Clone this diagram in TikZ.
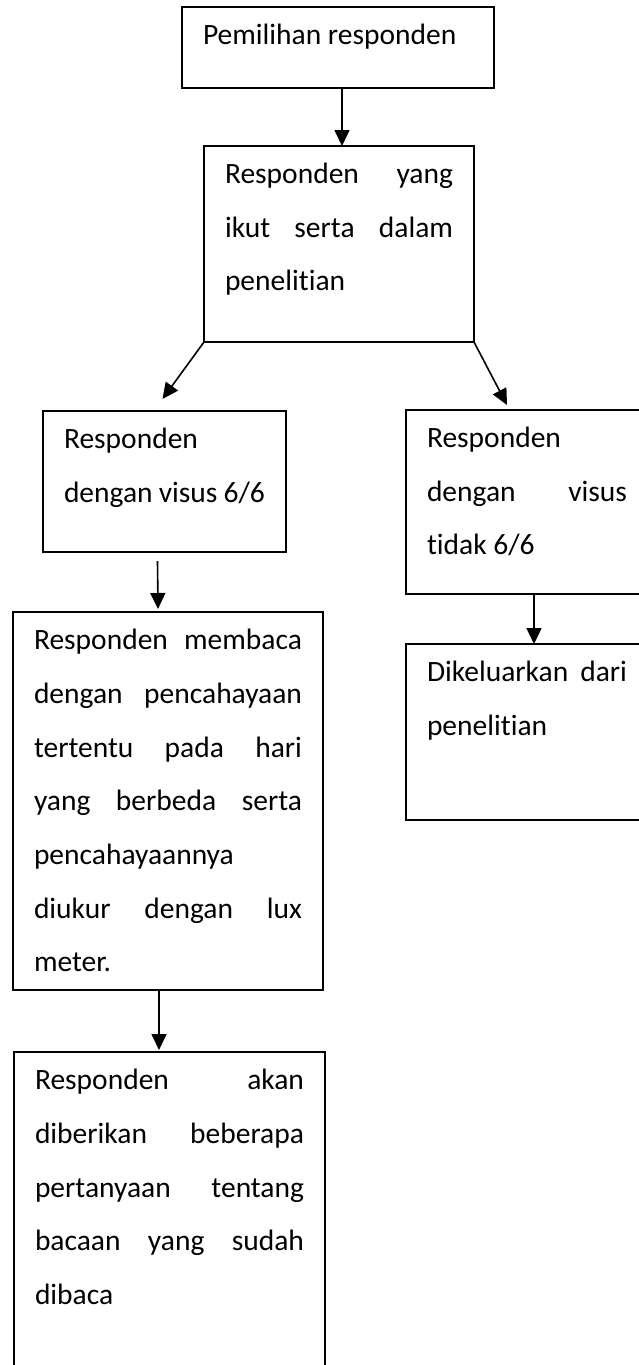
\documentclass[tikz,border=0pt]{standalone}
\usepackage{fontspec}
\setmainfont{Carlito}[Ligatures=NoCommon]
\usetikzlibrary{arrows.meta}

% width, height, lines
\newcommand{\flowtext}[3]{\parbox[c][#2][t]{#1}{\fontsize{29.5pt}{53.7pt}\selectfont\strut #3}}

\begin{document}
\begin{tikzpicture}[x=1pt,y=-1pt,
  flowbox/.style={draw, line width=1.6pt, inner xsep=21pt, inner ysep=0pt, outer sep=0pt, anchor=north west},
  flowarrow/.style={-{Triangle[length=16pt,width=15pt]}, line width=1.6pt}]

\useasboundingbox (0,0) rectangle (638,1365);

% BOXES
\node[flowbox] (pick) at (182,7) {\flowtext{270pt}{81pt}{Pemilihan responden}};
\node[flowbox] (ikut) at (204,146) {\flowtext{228pt}{196pt}{Responden\hfill yang\\ ikut\hfill serta\hfill dalam\\ penelitian}};
\node[flowbox] (visus66) at (43,411) {\flowtext{201pt}{141pt}{Responden\\ dengan visus 6/6}};
\node[flowbox] (visusno) at (406,410) {\flowtext{200pt}{184pt}{Responden\\ dengan\hfill visus\\ tidak 6/6}};
\node[flowbox] (keluar) at (406,644) {\flowtext{200pt}{176pt}{Dikeluarkan\hfill dari\\ penelitian}};
\node[flowbox] (membaca) at (13,612) {\flowtext{268pt}{378pt}{Responden\hfill membaca\\ dengan\hfill pencahayaan\\ tertentu\hfill pada\hfill hari\\ yang\hfill berbeda\hfill serta\\ pencahayaannya\\ diukur\hfill dengan\hfill lux\\ meter.}};
\node[flowbox] (pertanyaan) at (14,1052) {\flowtext{269pt}{400pt}{Responden\hfill akan\\ diberikan\hfill beberapa\\ pertanyaan\hfill tentang\\ bacaan\hfill yang\hfill sudah\\ dibaca}};

% ARROWS
\draw[flowarrow] ([xshift=4pt]pick.south) -- ([xshift=3pt]ikut.north);
\draw[flowarrow] (ikut.south west) -- ([xshift=-2pt,yshift=12pt]visus66.north);
\draw[flowarrow] (ikut.south east) -- ([shift={(101pt,5pt)}]visusno.north west);
\draw[flowarrow] ([xshift=-7pt,yshift=-9pt]visus66.south) -- ([xshift=-10pt,yshift=3pt]membaca.north);
\draw[flowarrow] ([xshift=-9pt]membaca.south) -- ([xshift=-10.5pt,yshift=2pt]pertanyaan.north);
\draw[flowarrow] ([xshift=7pt]visusno.south) -- ([xshift=7pt]keluar.north);

\end{tikzpicture}
\end{document}
